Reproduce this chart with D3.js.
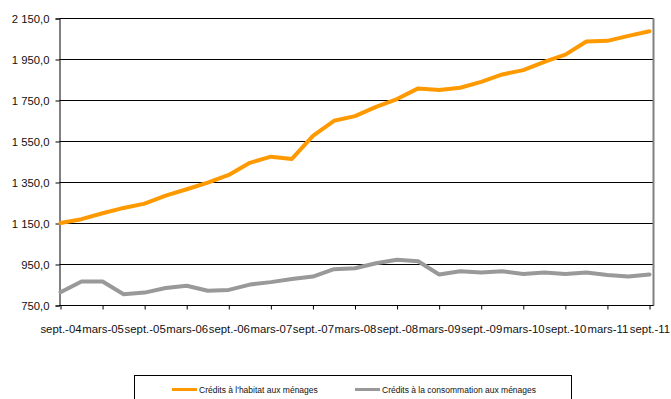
<!DOCTYPE html>
<html>
<head>
<meta charset="utf-8">
<script src="https://cdn.jsdelivr.net/npm/d3@7"></script>
<style>
  body { margin: 0; background: #fff; }
  svg { font-family: "Liberation Sans", Arial, sans-serif; }
</style>
</head>
<body>
<div id="chart"></div>
<script>
// Quarterly categories (sept.-04 .. sept.-11)
var categories = ["sept.-04", "déc.-04", "mars-05", "juin-05", "sept.-05", "déc.-05", "mars-06", "juin-06",
  "sept.-06", "déc.-06", "mars-07", "juin-07", "sept.-07", "déc.-07", "mars-08", "juin-08",
  "sept.-08", "déc.-08", "mars-09", "juin-09", "sept.-09", "déc.-09", "mars-10", "juin-10",
  "sept.-10", "déc.-10", "mars-11", "juin-11", "sept.-11"];

var habitat = [1152, 1171, 1200, 1226, 1247, 1286, 1317, 1349, 1387, 1446, 1476, 1465, 1577, 1651, 1674,
  1719, 1757, 1809, 1801, 1812, 1841, 1877, 1898, 1938, 1974, 2038, 2041, 2065, 2088];

var conso = [815, 867, 867, 805, 813, 835, 846, 822, 826, 852, 864, 879, 891, 927, 932,
  956, 973, 966, 901, 917, 911, 917, 904, 911, 904, 911, 899, 891, 901];

var yTicks = [750, 950, 1150, 1350, 1550, 1750, 1950, 2150];
var xTickLabels = categories.filter(function(d, i) { return i % 2 == 0; });

var seriesNames = ["Crédits à l'habitat aux ménages", "Crédits à la consommation aux ménages"];
var seriesColors = ["#ff9900", "#999999"];

// Dimensions
var w = 671, h = 399;
var margin = {top: 18.5, left: 59.5};
var width = 594, height = 287;

var svg = d3.select("#chart").append("svg")
  .attr("width", w)
  .attr("height", h);

var plot = svg.append("g")
  .attr("transform", "translate(" + margin.left + "," + margin.top + ")");

// Scales
var xScale = d3.scalePoint().domain(categories).range([1, 590]);
var yScale = d3.scaleLinear().domain([750, 2150]).range([height, 0]);

var fr = d3.formatLocale({decimal: ",", thousands: "\u00a0", grouping: [3], currency: ["", " €"]});
var fmt = fr.format(",.1f");

// Gridlines
plot.selectAll(".grid").data(yTicks).enter().append("line")
  .attr("x1", 0)
  .attr("x2", width)
  .attr("y1", function(d) { return Math.round(yScale(d)); })
  .attr("y2", function(d) { return Math.round(yScale(d)); })
  .attr("stroke", "#000")
  .attr("stroke-width", 1);

// Right border
plot.append("line")
  .attr("x1", width).attr("x2", width)
  .attr("y1", 0).attr("y2", height)
  .attr("stroke", "#808080")
  .attr("stroke-width", 2);

// Y axis
var yAxis = d3.axisLeft(yScale).tickValues(yTicks).tickFormat(fmt).tickSize(4).tickPadding(6);
var gy = plot.append("g").call(yAxis);
gy.select(".domain").attr("stroke", "#000");
gy.selectAll(".tick line").attr("stroke", "#000");
gy.selectAll("text")
  .attr("font-size", "11.3px")
  .attr("fill", "#111")
  .style("font-family", "'Liberation Sans', Arial, sans-serif");

// X axis
var xAxis = d3.axisBottom(xScale).tickValues(xTickLabels).tickSize(4).tickSizeOuter(0).tickPadding(15);
var gx = plot.append("g")
  .attr("transform", "translate(0," + height + ")")
  .call(xAxis);
gx.select(".domain").attr("stroke", "#000").attr("d", "M0,0H" + width);
gx.selectAll(".tick line").attr("stroke", "#000");
gx.selectAll("text")
  .attr("font-size", "11.4px")
  .attr("fill", "#111")
  .style("font-family", "'Liberation Sans', Arial, sans-serif");

// Lines
var line = d3.line()
  .x(function(d, i) { return xScale(categories[i]); })
  .y(function(d) { return yScale(d); });

[habitat, conso].forEach(function(s, k) {
  plot.append("path")
    .datum(s)
    .attr("d", line)
    .attr("fill", "none")
    .attr("stroke", seriesColors[k])
    .attr("stroke-width", 4)
    .attr("stroke-linejoin", "round")
    .attr("stroke-linecap", "round");
});

// Legend
var legend = svg.append("g");
legend.append("rect")
  .attr("x", 134.5)
  .attr("y", 375.5)
  .attr("width", 437)
  .attr("height", 40)
  .attr("fill", "#fff")
  .attr("stroke", "#000");

var legendX = [172, 355];
seriesNames.forEach(function(name, k) {
  legend.append("line")
    .attr("x1", legendX[k]).attr("x2", legendX[k] + 25)
    .attr("y1", 389.5).attr("y2", 389.5)
    .attr("stroke", seriesColors[k])
    .attr("stroke-width", 3);
  legend.append("text")
    .attr("x", legendX[k] + 27)
    .attr("y", 392.5)
    .attr("font-size", "8.5px")
    .attr("fill", "#111")
    .text(name);
});
</script>
</body>
</html>
